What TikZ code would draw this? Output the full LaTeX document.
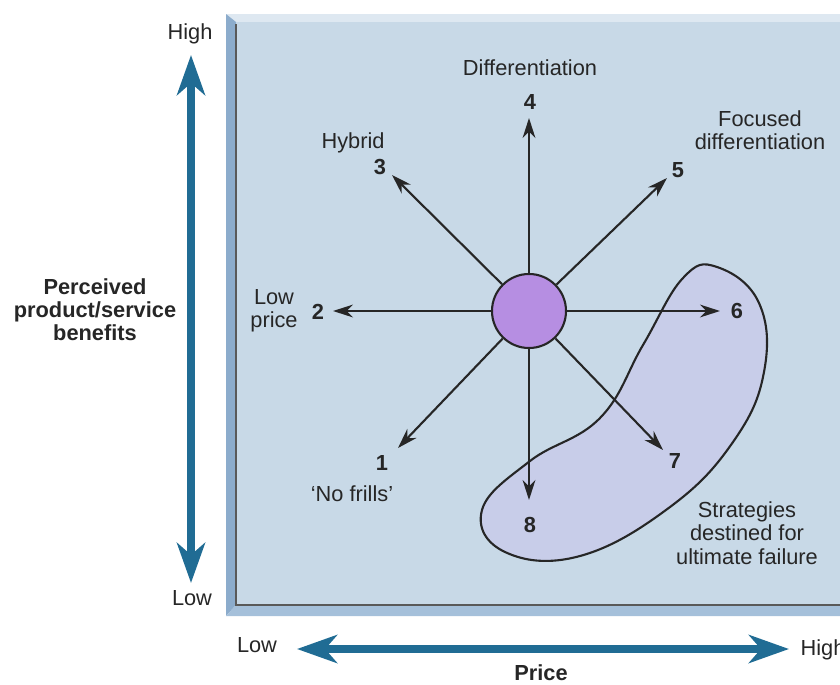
\documentclass[tikz,border=0pt]{standalone}
\usepackage{fontspec}
\setmainfont{Liberation Sans}
\usetikzlibrary{arrows.meta,positioning}

\definecolor{panelblue}{RGB}{200,217,231}
\definecolor{bevelleft}{RGB}{140,172,204}
\definecolor{bevelbottom}{RGB}{165,192,218}
\definecolor{beveltop}{RGB}{222,232,241}
\definecolor{blobfill}{RGB}{200,205,233}
\definecolor{hubfill}{RGB}{182,142,226}
\definecolor{axisblue}{RGB}{32,108,148}

\begin{document}
\begin{tikzpicture}[
    x=0.025cm, y=-0.025cm,
    every node/.style={font=\fontsize{15.5}{16.5}\selectfont, text=black!85},
    num/.style={font=\fontsize{15.5}{16.5}\selectfont\bfseries, inner sep=1pt},
    tag/.style={align=center, inner sep=1pt},
    arr/.style={-{Stealth[length=5mm, width=3.2mm]}, line width=1.5pt, draw=black!85},
    axis/.style={{Stealth[length=10mm, width=7mm, inset=3mm]}-{Stealth[length=10mm, width=7mm, inset=3mm]},
                 line width=5pt, draw=axisblue},
    blob/.style={draw=black!85, line width=1.5pt, fill=blobfill}
]
    \useasboundingbox (0,0) rectangle (840,684);

    % bevelled panel
    \fill[beveltop] (226,14) -- (880,14) -- (880,22) -- (236,22) -- cycle;
    \fill[bevelleft] (226,14) -- (236,22) -- (236,605) -- (226,616) -- cycle;
    \fill[bevelbottom] (226,616) -- (236,605) -- (880,605) -- (880,616) -- cycle;
    \fill[panelblue] (236,22) rectangle (880,605);
    \draw[line width=1pt, black!65] (236,24) -- (236,605) -- (880,605);

    % failure zone
    \draw[blob] plot[smooth cycle, tension=0.7] coordinates {
        (717,267) (759,303) (764,372) (733,442) (670,507)
        (580,556) (505,552) (482,510) (530,461) (600,418)
        (643,345) (683,278)};

    % arrow tips
    \coordinate (t1) at (398,448);
    \coordinate (t2) at (333,311);
    \coordinate (t3) at (392,175);
    \coordinate (t4) at (529,118);
    \coordinate (t5) at (667,178);
    \coordinate (t6) at (720,311);
    \coordinate (t7) at (663,450);
    \coordinate (t8) at (529,500);

    \node[circle, draw=black!85, line width=1.5pt, fill=hubfill, minimum size=1.85cm] (hub) at (529,311) {};

    \foreach \t in {t1,t2,t3,t4,t5,t6,t7,t8}
        \draw[arr] (hub) -- (\t);

    % strategy numbers
    \node[num] (n1) at (382,463) {1};
    \node[num] (n2) at (318,312) {2};
    \node[num] (n3) at (380,167) {3};
    \node[num] (n4) at (530,102) {4};
    \node[num] (n5) at (678,170) {5};
    \node[num] (n6) at (737,311) {6};
    \node[num] (n7) at (675,461) {7};
    \node[num] (n8) at (530,525) {8};

    % strategy names
    \node[tag] (nofrills) at (352,494) {`No frills'};
    \node[tag] (lowprice) at (274,311) {Low\\price};
    \node[tag] (hybrid) at (353,143) {Hybrid};
    \node[tag] (diff) at (530,68) {Differentiation};
    \node[tag] (focused) at (760,130) {Focused\\differentiation};
    \node[tag] (failure) at (747,533) {Strategies\\destined for\\ultimate failure};

    % axes
    \coordinate (vtop) at (191,55);
    \coordinate (vbot) at (191,583);
    \coordinate (hleft) at (297,649);
    \coordinate (hright) at (789,649);
    \draw[axis] (vbot) -- (vtop);
    \draw[axis] (hleft) -- (hright);

    \node (vhigh) at (190,34) {High};
    \node (vlow) at (192,598) {Low};
    \node (hlow) at (257,645) {Low};
    \node (hhigh) at (823,650) {High};
    \node[tag, font=\fontsize{15.5}{16.5}\selectfont\bfseries] (benefits) at (95,310) {Perceived\\product/service\\benefits};
    \node[font=\fontsize{15.5}{16.5}\selectfont\bfseries] (price) at (541,673) {Price};
\end{tikzpicture}
\end{document}
